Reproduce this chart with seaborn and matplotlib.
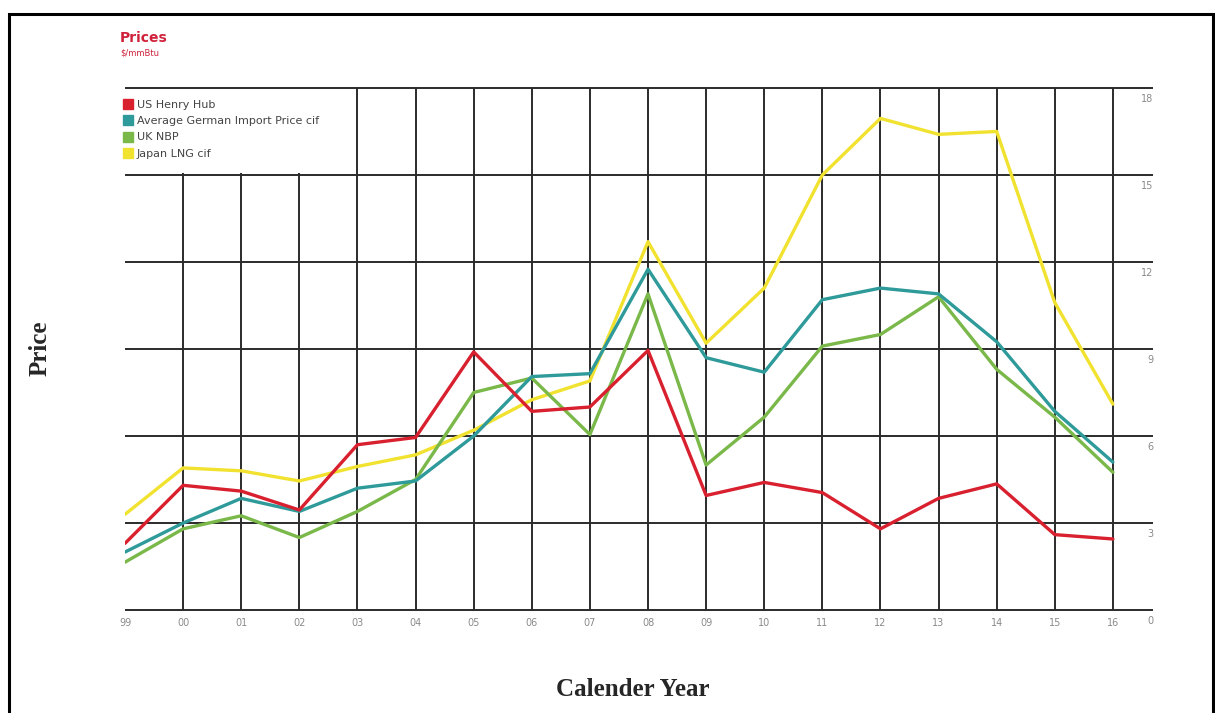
import pandas as pd
import seaborn as sns
import matplotlib.pyplot as plt
from matplotlib.patches import Rectangle
from matplotlib.lines import Line2D
import matplotlib.transforms as mtransforms

# chart data ($/mmBtu)
years = ["99", "00", "01", "02", "03", "04", "05", "06", "07", "08",
         "09", "10", "11", "12", "13", "14", "15", "16"]
henry_hub = [2.3, 4.3, 4.1, 3.45, 5.7, 5.95, 8.9, 6.85, 7.0, 8.95,
             3.95, 4.4, 4.05, 2.8, 3.85, 4.35, 2.6, 2.45]
german_import = [2.0, 3.0, 3.85, 3.4, 4.2, 4.45, 6.0, 8.05, 8.15, 11.75,
                 8.7, 8.2, 10.7, 11.1, 10.9, 9.25, 6.85, 5.1]
uk_nbp = [1.65, 2.8, 3.25, 2.5, 3.4, 4.5, 7.5, 8.0, 6.05, 10.9,
          5.0, 6.65, 9.1, 9.5, 10.8, 8.3, 6.65, 4.75]
japan_lng = [3.3, 4.9, 4.8, 4.45, 4.95, 5.35, 6.2, 7.25, 7.9, 12.7,
             9.2, 11.1, 15.0, 16.95, 16.4, 16.5, 10.6, 7.1]

series_names = ["US Henry Hub", "Average German Import Price cif", "UK NBP", "Japan LNG cif"]
series_values = [henry_hub, german_import, uk_nbp, japan_lng]
series_colors = ["#d8202f", "#2f9a9a", "#79b849", "#f2e230"]
y_ticks = [0, 3, 6, 9, 12, 15, 18]

rows = []
for name, vals in zip(series_names, series_values):
    for i, v in enumerate(vals):
        rows.append({"pos": i, "price": v, "series": name})
df = pd.DataFrame(rows)

sns.set_style("white")
plt.rcParams["font.family"] = ["DejaVu Sans"]

fig = plt.figure(figsize=(12.15, 7.13), dpi=100)
W, H = 1215, 713
x_right = 17.69
ax = fig.add_axes([125 / W, (713 - 611.5) / H, 1028 / W, 525 / H])

palette = dict(zip(series_names, series_colors))
sns.lineplot(data=df, x="pos", y="price", hue="series",
             hue_order=series_names[::-1], palette=palette,
             linewidth=2.4, legend=False, ax=ax, zorder=3)

ax.set_xlim(0, x_right)
ax.set_ylim(-0.05, 18.05)
for s in ax.spines.values():
    s.set_visible(False)

grid_color = "#2b2b2b"
ax.vlines(range(1, len(years)), 0, 18, color=grid_color, lw=1.4, zorder=1)
ax.hlines(y_ticks, 0, x_right, color=grid_color, lw=1.4, zorder=2)

# white box behind the legend hides the top of the first grid cells
ax.add_patch(Rectangle((0, 15.06), 3.97, 2.99, facecolor="white",
                       edgecolor="none", zorder=1.5))

ax.set_xticks(range(len(years)))
ax.set_xticklabels(years)
ax.set_yticks([])
ax.tick_params(axis="x", length=0, pad=5, labelsize=7, labelcolor="#8a8a8a")
ax.set_xlabel("")
ax.set_ylabel("")

# y labels sit just under each grid line at the right end
offset = mtransforms.offset_copy(ax.transData, fig=fig, x=0, y=-4, units="points")
for t in y_ticks:
    ax.text(x_right, t, str(t), transform=offset, ha="right", va="top",
            fontsize=7, color="#8a8a8a")

handles = [Line2D([], [], marker="s", linestyle="none", markersize=7,
                  markerfacecolor=c, markeredgecolor=c) for c in series_colors]
ax.legend(handles, series_names, loc="upper left", bbox_to_anchor=(-0.004, 0.978),
          frameon=False, fontsize=8, labelcolor="#444444", handlelength=0.8,
          handletextpad=0.45, labelspacing=0.55, borderaxespad=0, borderpad=0.2)

fig.text(120 / W, 1 - 38 / H, "Prices", fontsize=10, fontweight="bold",
         color="#d0213a", va="center")
fig.text(120 / W, 1 - 53 / H, r"\$/mmBtu", fontsize=6, color="#d0213a", va="center")

fig.text(40 / W, 1 - 348 / H, "Price", rotation=90, fontsize=18, fontweight="bold",
         family=["Liberation Serif"], ha="center", va="center")
fig.text(633 / W, 1 - 690 / H, "Calender Year", fontsize=18, fontweight="bold",
         family=["Liberation Serif"], ha="center", va="center")

fig.add_artist(Rectangle((9 / W, -0.02), (1213 - 9) / W, (713 - 14) / H + 0.02,
                         transform=fig.transFigure, fill=False, lw=2.2,
                         edgecolor="black"))

fig.savefig("out.png", dpi=100)
